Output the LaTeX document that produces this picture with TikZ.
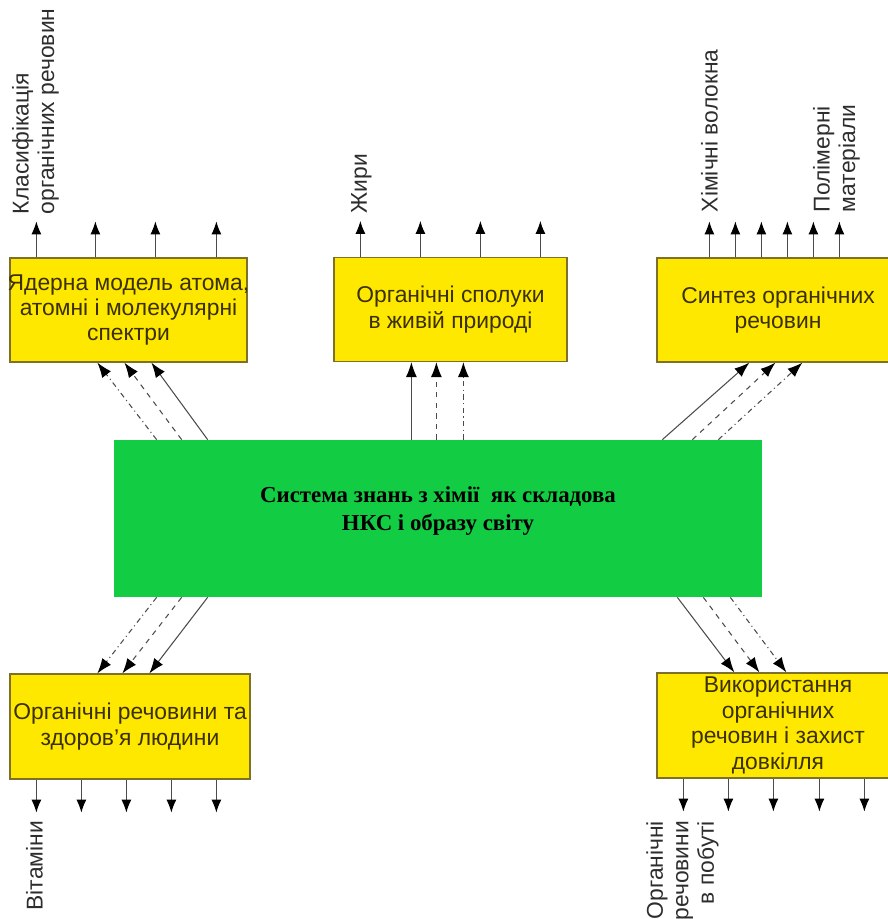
\documentclass[tikz,border=0pt]{standalone}
\usepackage{fontspec}
\setmainfont{Liberation Sans}
\newfontfamily\corefont{Liberation Serif}
\usetikzlibrary{arrows.meta}
\definecolor{boxyellow}{RGB}{255,232,0}
\definecolor{boxline}{RGB}{125,112,40}
\definecolor{boxtext}{RGB}{58,48,0}
\definecolor{coregreen}{RGB}{18,204,68}
\definecolor{linegray}{RGB}{75,75,75}
\definecolor{labeltext}{RGB}{45,45,45}
\begin{document}
\begin{tikzpicture}[
    topic/.style={rectangle, draw=boxline, line width=0.7pt, fill=boxyellow, text=boxtext,
        minimum width=4.74cm, minimum height=2.08cm, inner sep=0pt, align=center,
        font=\fontsize{13}{14.5}\selectfont},
    core/.style={rectangle, fill=coregreen, minimum width=12.96cm, minimum height=3.14cm},
    core text/.style={align=center, font=\corefont\bfseries\fontsize{13}{15.5}\selectfont},
    link/.style={draw=linegray, line width=0.6pt, -{Latex[length=3mm,width=2.2mm,color=black]}},
    stub/.style={draw=linegray, line width=0.6pt, -{Latex[length=2.6mm,width=2mm,color=black]}},
    leaf/.style={rotate=90, text=labeltext, inner sep=0pt, font=\fontsize{13}{14.5}\selectfont}
]
    \useasboundingbox (0,0) rectangle (17.76,-18.38);

    % yellow topic boxes and the core
    \draw(2.57, -6.2) node [topic](nucl){\makebox[4.5cm]{Ядерна модель атома,}\\атомні і молекулярні\\спектри};
    \draw(9.01, -6.19) node [topic, minimum width=4.66cm](life){Органічні сполуки\\в живій природі};
    \draw(15.56, -6.2) node [topic, minimum width=4.84cm](synth){Синтез органічних\\речовин};
    \draw(8.76, -10.37) node [core, label={[core text, yshift=0.15cm]center:Система знань з хімії\ \ як складова\\НКС і образу світу}](sys){};
    \draw(2.6, -14.53) node [topic, minimum width=4.8cm, minimum height=2.1cm](health){Органічні речовини та\\здоров’я людини};
    \draw(15.56, -14.51) node [topic, minimum width=4.84cm, minimum height=2.1cm](use){Використання\\органічних\\речовин і захист\\довкілля};

    % core -> top boxes
    \draw[link, dash dot] ([xshift=0.86cm]sys.north west) -- ([xshift=1.76cm]nucl.south west);
    \draw[link, dashed] ([xshift=1.36cm]sys.north west) -- ([xshift=2.3cm]nucl.south west);
    \draw[link] ([xshift=1.88cm]sys.north west) -- ([xshift=2.84cm]nucl.south west);

    \draw[link] ([xshift=1.56cm]life.south west |- sys.north) -- ([xshift=1.56cm]life.south west);
    \draw[link, dashed] ([xshift=2.06cm]life.south west |- sys.north) -- ([xshift=2.06cm]life.south west);
    \draw[link, dash dot] ([xshift=2.6cm]life.south west |- sys.north) -- ([xshift=2.6cm]life.south west);

    \draw[link] ([xshift=-2.0cm]sys.north east) -- ([xshift=1.86cm]synth.south west);
    \draw[link, dashed] ([xshift=-1.4cm]sys.north east) -- ([xshift=2.38cm]synth.south west);
    \draw[link, dash dot] ([xshift=-0.88cm]sys.north east) -- ([xshift=2.92cm]synth.south west);

    % core -> bottom boxes
    \draw[link, dash dot] ([xshift=0.86cm]sys.south west) -- ([xshift=1.76cm]health.north west);
    \draw[link, dashed] ([xshift=1.36cm]sys.south west) -- ([xshift=2.26cm]health.north west);
    \draw[link] ([xshift=1.88cm]sys.south west) -- ([xshift=2.8cm]health.north west);

    \draw[link] ([xshift=-1.7cm]sys.south east) -- ([xshift=1.56cm]use.north west);
    \draw[link, dashed] ([xshift=-1.18cm]sys.south east) -- ([xshift=2.06cm]use.north west);
    \draw[link, dash dot] ([xshift=-0.64cm]sys.south east) -- ([xshift=2.6cm]use.north west);

    % outgoing stubs
    \foreach \x in {0.54,1.72,2.92,4.14}
        \draw[stub] ([xshift=\x cm]nucl.north west) -- ++(0,0.72);
    \foreach \x in {0.54,1.74,2.94,4.14}
        \draw[stub] ([xshift=\x cm]life.north west) -- ++(0,0.72);
    \foreach \x in {1.06,1.58,2.10,2.62,3.14,3.66}
        \draw[stub] ([xshift=\x cm]synth.north west) -- ++(0,0.72);
    \foreach \x in {0.54,1.44,2.34,3.24,4.14}
        \draw[stub] ([xshift=\x cm]health.south west) -- ++(0,-0.66);
    \foreach \x in {0.54,1.44,2.34,3.26,4.16}
        \draw[stub] ([xshift=\x cm]use.south west) -- ++(0,-0.66);

    % labels on the stubs
    \node[leaf, anchor=west, align=left](clsf) at ([xshift=0.52cm, yshift=0.86cm]nucl.north west) {Класифікація\\органічних речовин};
    \node[leaf, anchor=west](fats) at ([xshift=0.56cm, yshift=0.86cm]life.north west) {Жири};
    \node[leaf, anchor=west](fibre) at ([xshift=1.06cm, yshift=0.9cm]synth.north west) {Хімічні волокна};
    \node[leaf, anchor=west, align=left](poly) at ([xshift=3.6cm, yshift=0.9cm]synth.north west) {Полімерні\\матеріали};
    \node[leaf, anchor=east](vit) at ([xshift=0.5cm, yshift=-0.82cm]health.south west) {Вітаміни};
    \node[leaf, anchor=east, align=right](home) at ([xshift=0.52cm, yshift=-0.84cm]use.south west) {Органічні\\речовини\\в побуті};
\end{tikzpicture}
\end{document}
